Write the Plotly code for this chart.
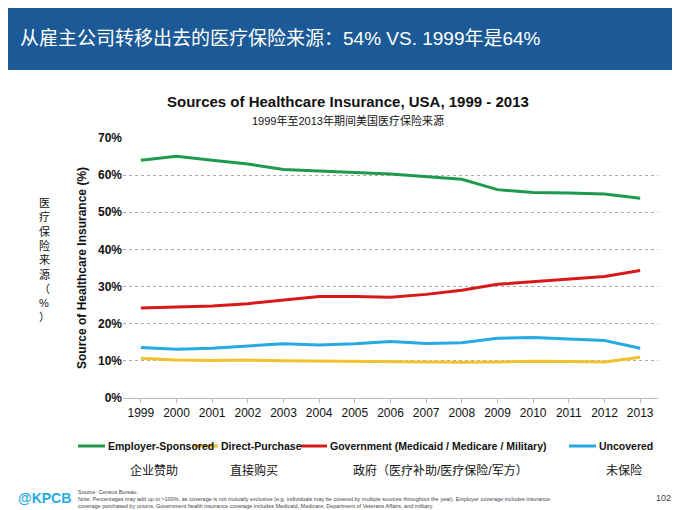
import plotly.graph_objects as go

years = list(range(1999, 2014))
employer = [64.0, 65.1, 64.0, 63.0, 61.5, 61.0, 60.7, 60.3, 59.7, 58.9, 56.1, 55.3, 55.2, 54.9, 53.8]
direct = [10.7, 10.2, 10.1, 10.2, 10.0, 9.9, 9.9, 9.8, 9.6, 9.6, 9.7, 9.9, 9.8, 9.7, 11.0]
government = [24.2, 24.4, 24.8, 25.4, 26.4, 27.3, 27.3, 27.1, 27.9, 29.0, 30.6, 31.3, 32.1, 32.7, 34.3]
uncovered = [13.6, 13.1, 13.4, 13.9, 14.6, 14.3, 14.6, 15.2, 14.7, 14.9, 16.1, 16.3, 15.8, 15.5, 13.4]

series = [
    ("Employer-Sponsored", employer, "#1e9a4e"),
    ("Direct-Purchase", direct, "#f2c12e"),
    ("Government (Medicaid / Medicare / Military)", government, "#d7191c"),
    ("Uncovered", uncovered, "#27a9e1"),
]
cn_labels = ["企业赞助", "直接购买", "政府（医疗补助/医疗保险/军方）", "未保险"]

# legend layout in pixels (line start, text start, chinese label centre)
leg_pos = [(70, 98, 146), (184, 211, 246), (293, 320, 432), (561, 589, 616)]

PL, PB, PW, PH = 115, 120, 535, 260


def px(x):
    return (x - PL) / PW


def py(y):
    return (y - PB) / PH


fig = go.Figure()
for name, vals, color in series:
    fig.add_trace(go.Scatter(x=years, y=vals, name=name, mode="lines",
                             line=dict(color=color, width=3)))

fig.update_layout(
    width=680, height=510, paper_bgcolor="white", plot_bgcolor="white",
    margin=dict(l=PL, r=680 - PL - PW, t=510 - PB - PH, b=PB),
    font=dict(family="Liberation Sans, Noto Sans CJK SC", color="#111"),
    showlegend=False,
    xaxis=dict(range=[1998.5, 2013.5], tickvals=years, tickfont=dict(size=12, color="#111"),
               tickprefix="<b>", ticksuffix="</b>",
               showgrid=False, showline=True, linecolor="#bbb", ticks="outside",
               tickcolor="#bbb", ticklen=4),
    yaxis=dict(range=[0, 70], dtick=10, tickformat="d", ticksuffix="%</b>", tickprefix="<b>",
               tickfont=dict(size=12, color="#111"),
               showgrid=True, gridcolor="#aaa", griddash="dot", zeroline=False,
               title=dict(text="<b>Source of Healthcare Insurance (%)</b>", font=dict(size=12), standoff=8)),
)

shapes = [dict(type="rect", xref="paper", yref="paper", x0=px(0), x1=px(680), y0=py(448), y1=py(510),
               fillcolor="#1b5a96", line_width=0, layer="below")]
anns = []
for (name, vals, color), (lx, tx, cx), cn in zip(series, leg_pos, cn_labels):
    shapes.append(dict(type="line", xref="paper", yref="paper", x0=px(lx), x1=px(tx - 1),
                       y0=py(72), y1=py(72), line=dict(color=color, width=3)))
    anns.append(dict(text="<b>" + name + "</b>", xref="paper", yref="paper", x=px(tx), y=py(72),
                     xanchor="left", yanchor="middle", showarrow=False,
                     font=dict(size=10.5, color="#111", family="Liberation Sans Narrow, Liberation Sans")))
    anns.append(dict(text=cn, xref="paper", yref="paper", x=px(cx), y=py(48),
                     xanchor="center", yanchor="middle", showarrow=False,
                     font=dict(size=12, color="#111")))
fig.update_layout(shapes=shapes)

ann = [
    dict(text="从雇主公司转移出去的医疗保险来源：54% VS. 1999年是64%", x=10, y=480, size=19, color="white", xanchor="left"),
    dict(text="<b>Sources of Healthcare Insurance, USA, 1999 - 2013</b>", x=340, y=417, size=15, color="#111", xanchor="center"),
    dict(text="1999年至2013年期间美国医疗保险来源", x=340, y=398, size=11, color="#111", xanchor="center"),
    dict(text="医<br>疗<br>保<br>险<br>来<br>源<br>（<br>%<br>）", x=36, y=258, size=11, color="#111", xanchor="center"),
    dict(text="<b>@KPCB</b>", x=8, y=20, size=14, color="#27a9e1", xanchor="left"),
    dict(text="Source: Census Bureau.<br>Note: Percentages may add up to >100%, as coverage is not mutually exclusive (e.g. individuals may be covered by multiple sources throughout the year). Employer coverage includes insurance<br>coverage purchased by unions. Government health insurance coverage includes Medicaid, Medicare, Department of Veterans Affairs, and military.",
         x=68, y=19, size=5.5, color="#444", xanchor="left"),
    dict(text="102", x=665, y=20, size=9, color="#444", xanchor="right"),
]
for a in ann:
    anns.append(dict(text=a["text"], xref="paper", yref="paper", x=px(a["x"]), y=py(a["y"]),
                     xanchor=a["xanchor"], yanchor="middle", showarrow=False, align="left",
                     font=dict(size=a["size"], color=a["color"])))
fig.update_layout(annotations=anns)

fig.write_html("out.html")
